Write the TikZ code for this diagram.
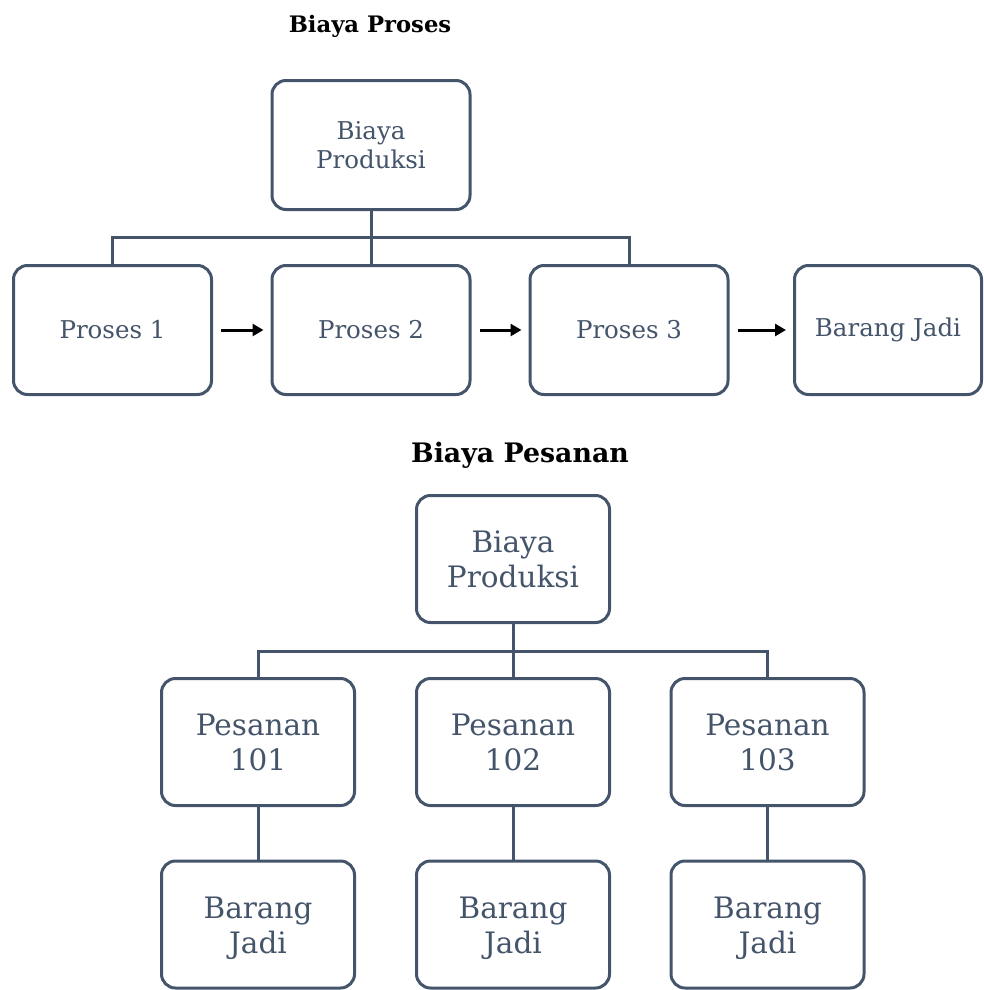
\documentclass[tikz,border=0pt]{standalone}
\usepackage{fontspec}
\setmainfont{DejaVu Serif}
\usetikzlibrary{arrows.meta}
\definecolor{slate}{HTML}{44546A}
\tikzset{
  box/.style={draw=slate, line width=3pt, rounded corners=14pt, fill=white,
    text=slate, align=center, inner sep=2pt},
  boxA/.style={box, minimum width=198pt, minimum height=129pt,
    font=\fontsize{24.5}{29}\selectfont},
  boxB/.style={box, minimum width=193pt, minimum height=127pt,
    font=\fontsize{29.5}{35}\selectfont},
  link/.style={draw=slate, line width=3pt},
  flow/.style={draw=black, line width=3pt, -{Triangle[length=11pt,width=12pt]},
    shorten <=8pt, shorten >=7pt},
  title/.style={font=\bfseries}
}
\begin{document}
\begin{tikzpicture}[x=1pt,y=-1pt]
\useasboundingbox (0,0) rectangle (984,990);

% process costing
\node[title, font=\bfseries\fontsize{22.7}{27}\selectfont] (t1) at (370,26) {Biaya Proses};
\node[boxA] (bp) at (371,145) {Biaya\\Produksi};
\node[boxA] (p1) at (112.5,330) {Proses 1};
\node[boxA] (p2) at (371,330) {Proses 2};
\node[boxA] (p3) at (629,330) {Proses 3};
\node[boxA, minimum width=187pt] (bj) at (888,330) {Barang Jadi};

\draw[link] (bp.south) -- (p2.north);
\draw[link] (p1.north) -- ++(0,-27) -| (p3.north);
\draw[flow] (p1) -- (p2);
\draw[flow] (p2) -- (p3);
\draw[flow] (p3) -- (bj);

% job order costing
\node[title, font=\bfseries\fontsize{26.8}{32}\selectfont] (t2) at (520,455) {Biaya Pesanan};
\node[boxB] (bq) at (513,559) {Biaya\\Produksi};
\node[boxB] (q1) at (258,742) {Pesanan\\101};
\node[boxB] (q2) at (513,742) {Pesanan\\102};
\node[boxB] (q3) at (767.5,742) {Pesanan\\103};
\node[boxB] (j1) at (258,924.5) {\rule{0pt}{30pt}Barang\\Jadi};
\node[boxB] (j2) at (513,924.5) {\rule{0pt}{30pt}Barang\\Jadi};
\node[boxB] (j3) at (767.5,924.5) {\rule{0pt}{30pt}Barang\\Jadi};

\draw[link] (bq.south) -- (q2.north);
\draw[link] (q1.north) -- ++(0,-26) -| (q3.north);
\draw[link] (q1.south) -- (j1.north);
\draw[link] (q2.south) -- (j2.north);
\draw[link] (q3.south) -- (j3.north);
\end{tikzpicture}
\end{document}
